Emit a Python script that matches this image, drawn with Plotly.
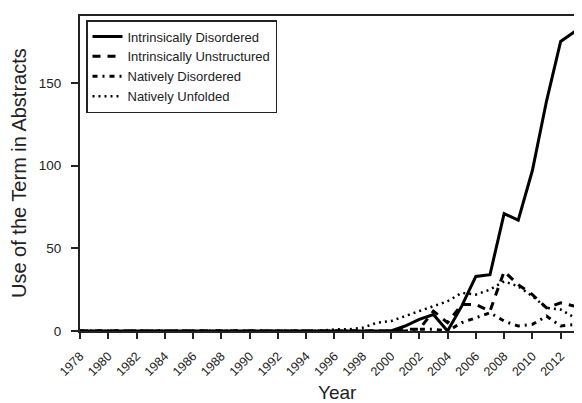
import plotly.graph_objects as go

years = list(range(1978, 2015))

# values (1978..2014)
intrinsically_disordered = [0]*23 + [3, 7, 10, 0, 15, 33, 34, 71, 67, 97, 139, 175, 181, 148]
intrinsically_unstructured = [0]*23 + [1, 1, 12, 5, 16, 16, 12, 36, 28, 22, 14, 17, 15, 12]
natively_disordered = [0]*24 + [1, 1, 0, 5, 8, 11, 6, 3, 4, 9, 3, 4, 2]
natively_unfolded = [0]*18 + [1, 1, 2, 5, 6, 9, 12, 15, 18, 23, 22, 25, 30, 27, 21, 14, 13, 8, 1]

series = [
    ("Intrinsically Disordered", intrinsically_disordered, "solid", 3),
    ("Intrinsically Unstructured", intrinsically_unstructured, "8px,7px", 3),
    ("Natively Disordered", natively_disordered, "5px,5px,2px,5px", 3),
    ("Natively Unfolded", natively_unfolded, "2px,4px", 2.5),
]

tick_years = list(range(1978, 2013, 2))

# page body has an 8px margin: figure origin sits at (8, 8) on screen
OFF = 8
W, H = 582 - OFF, 403 - OFF
L, R, T, B = 80 - OFF, 0, 16 - OFF, 403 - 331
pw, ph = W - L - R, H - T - B


def sx(px):  # screen x -> paper x
    return (px - OFF - L) / pw


def sy(py):  # screen y -> paper y
    return (H - B - (py - OFF)) / ph


fig = go.Figure()
for name, vals, dash, w in series:
    fig.add_trace(go.Scatter(x=years, y=vals, mode="lines", name=name,
                             line=dict(color="black", width=w, dash=dash)))

font = "Arial, Liberation Sans, sans-serif"
fig.update_layout(
    width=W, height=H,
    margin=dict(l=L, r=R, t=T, b=B),
    paper_bgcolor="white", plot_bgcolor="white",
    font=dict(family=font, size=12, color="#222"),
    showlegend=True,
    legend=dict(x=sx(86), y=sy(20), xanchor="left", yanchor="top",
                bordercolor="#222", borderwidth=1.5, bgcolor="white",
                font=dict(size=13, color="#222"), itemwidth=30,
                tracegroupgap=0),
    xaxis=dict(range=[1978, 2013.51], tickmode="array", tickvals=tick_years,
               ticktext=[str(t) for t in tick_years], tickangle=-45,
               showline=True, linecolor="#222", linewidth=2, mirror=True,
               ticks="outside", ticklen=6, tickwidth=2, tickcolor="#222",
               showgrid=False, zeroline=False, automargin=False,
               ticklabelstandoff=5,
               tickfont=dict(size=12.5, color="#222")),
    yaxis=dict(range=[0, 190.4], tickvals=[0, 50, 100, 150],
               showline=True, linecolor="#222", linewidth=2,
               ticks="outside", ticklen=7, tickwidth=2, tickcolor="#222",
               showgrid=False, zeroline=False, automargin=False,
               ticklabelstandoff=7,
               tickfont=dict(size=13.5, color="#222")),
)
fig.add_annotation(text="Year", xref="paper", yref="paper",
                   x=sx(337), y=sy(392),
                   xanchor="center", yanchor="middle", showarrow=False,
                   font=dict(size=19, color="#222"))
fig.add_annotation(text="Use of the Term in Abstracts", xref="paper", yref="paper",
                   x=sx(19), y=sy(173), textangle=-90,
                   xanchor="center", yanchor="middle", showarrow=False,
                   font=dict(size=20, color="#222"))

fig.write_html("out.html")
